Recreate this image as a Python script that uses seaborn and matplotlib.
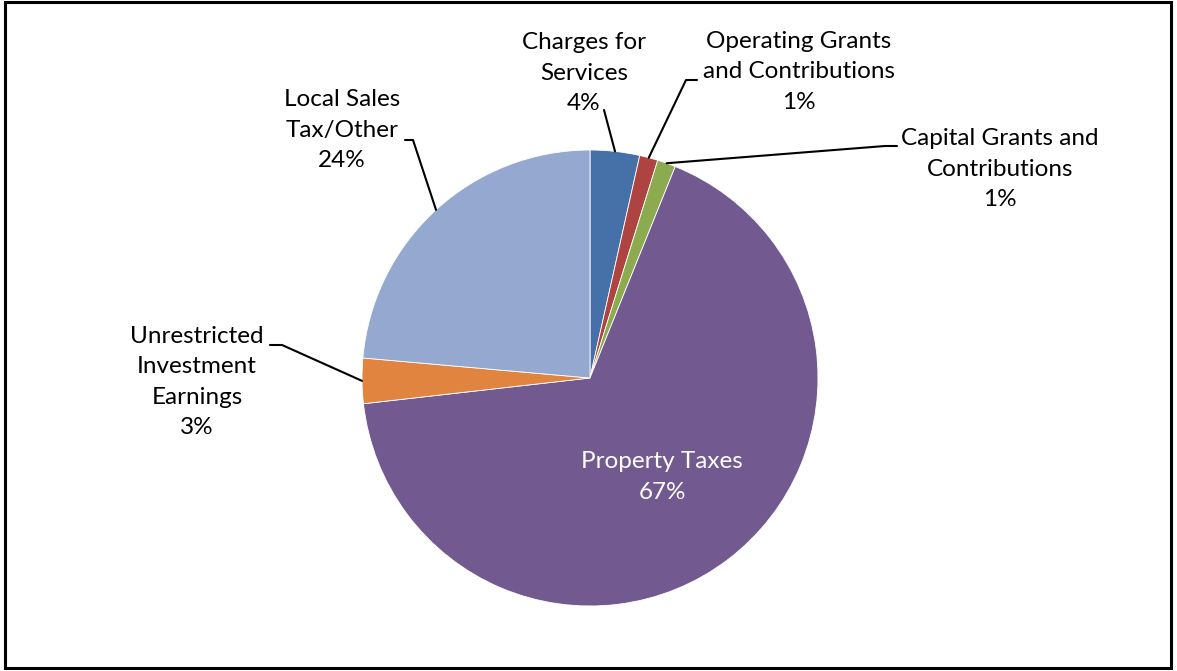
import matplotlib
matplotlib.use("Agg")
import matplotlib.pyplot as plt
import seaborn as sns
import numpy as np

# slice data (clockwise from 12 o'clock)
labels = ["Charges for\nServices", "Operating Grants\nand Contributions",
          "Capital Grants and\nContributions", "Property Taxes",
          "Unrestricted\nInvestment\nEarnings", "Local Sales\nTax/Other"]
shares = [3.5, 1.3, 1.3, 67.1, 3.2, 23.6]
pct_text = ["4%", "1%", "1%", "67%", "3%", "24%"]
colors = ["#4570A8", "#AE4441", "#8CAB4F", "#725A90", "#E0843F", "#95A9D0"]

W, H = 1177, 671


def py(y):
    # pixel row -> data y
    return H - y


sns.set_theme(style="white")
plt.rcParams["font.family"] = ["Lato", "DejaVu Sans"]

fig = plt.figure(figsize=(W / 100, H / 100), dpi=100)
ax = fig.add_axes([0, 0, 1, 1])

cx, cy, r = 590, py(378), 228
wedges, _ = ax.pie(shares, colors=colors, startangle=90, counterclock=False,
                   center=(cx, cy), radius=r, frame=True,
                   wedgeprops=dict(edgecolor="white", linewidth=0.6))
ax.set_xlim(0, W)
ax.set_ylim(0, H)
ax.axis("off")

# label text placement (pixel coords of text centre)
label_pos = [(584, 73), (799, 72), (1000, 169), (662, 477), (197, 382), (342, 130)]
# leader line elbows: (knee point, end point) in pixels, None for inside label
leaders = [
    [(604, 110)],
    [(686, 80), (697, 80)],
    [(885, 146), (897, 146)],
    None,
    [(282, 345), (270, 345)],
    [(413, 140), (405, 140)],
]

for i, w in enumerate(wedges):
    txt = labels[i] + "\n" + pct_text[i]
    col = "white" if i == 3 else "black"
    x, y = label_pos[i]
    ax.text(x, py(y), txt, ha="center", va="center", fontsize=17.5,
            color=col, linespacing=1.55)
    if leaders[i] is None:
        continue
    theta = np.deg2rad((w.theta1 + w.theta2) / 2)
    sx = cx + r * np.cos(theta)
    sy = cy + r * np.sin(theta)
    xs = [sx] + [p[0] for p in leaders[i]]
    ys = [sy] + [py(p[1]) for p in leaders[i]]
    ax.plot(xs, ys, color="black", lw=1.5)

# outer frame
frame = plt.Rectangle((5, py(668)), 1166, 666, fill=False, edgecolor="black",
                      lw=2.2, transform=ax.transData)
ax.add_patch(frame)

fig.savefig("out.png", dpi=100)
